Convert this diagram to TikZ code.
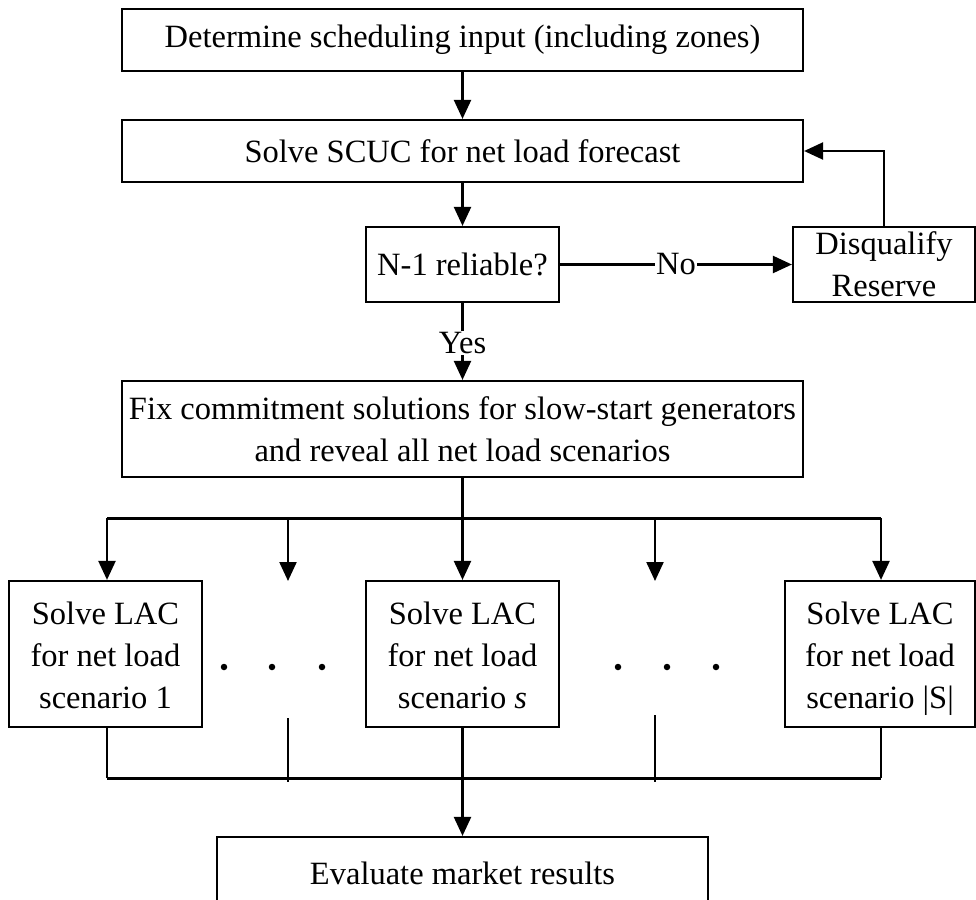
\documentclass[tikz,border=0pt]{standalone}
\usepackage{fontspec}
\setmainfont{Liberation Serif}
\usetikzlibrary{arrows.meta}
\begin{document}
\begin{tikzpicture}[x=1pt,y=-1pt,
  box/.style={draw, line width=2.2pt, rectangle, inner sep=0pt, align=center,
    font=\fontsize{32.5}{42}\selectfont},
  flow/.style={line width=2.3pt, -{Triangle[length=19pt,width=17pt]}},
  link/.style={line width=2.3pt},
  bus/.style={line width=3pt},
  tag/.style={fill=white, inner sep=1pt, font=\fontsize{32.5}{42}\selectfont},
  dot/.style={fill, circle, inner sep=0pt, minimum size=6.5pt}]
\useasboundingbox (0,0) rectangle (976,899);
\clip (0,0) rectangle (976,899);

% main chain
\node[box, minimum width=681pt, minimum height=62pt] (input) at (462.5,40) {Determine scheduling input (including zones)};
\node[box, minimum width=681pt, minimum height=62pt] (scuc) at (462.5,151) {Solve SCUC for net load forecast};
\node[box, minimum width=193pt, minimum height=75pt] (rel) at (462.5,264.5) {N-1 reliable?};
\node[box, minimum width=182pt, minimum height=75pt] (disq) at (884,264.5) {Disqualify\\Reserve};
\node[box, minimum width=681pt, minimum height=96pt] (fix) at (462.5,429) {Fix commitment solutions for slow-start generators\\and reveal all net load scenarios};

% scenario boxes (strut on the first line keeps the three texts level)
\node[box, minimum width=193pt, minimum height=146pt] (lac1) at (105.5,654) {\rule{0pt}{32pt}Solve LAC\\for net load\\scenario 1\vphantom{|}};
\node[box, minimum width=193pt, minimum height=146pt] (lacs) at (462.5,654) {\rule{0pt}{32pt}Solve LAC\\for net load\\scenario \textit{s}\vphantom{|}};
\node[box, minimum width=190pt, minimum height=146pt] (lacS) at (880,654) {\rule{0pt}{32pt}Solve LAC\\for net load\\scenario |S|};
\node[box, minimum width=491pt, minimum height=72pt] (eval) at (462.5,873) {Evaluate market results};

% ellipses between scenarios
\node[dot] (e1) at (224,667) {};
\node[dot] (e2) at (272,667) {};
\node[dot] (e3) at (322,667) {};
\node[dot] (e4) at (618,667) {};
\node[dot] (e5) at (667,667) {};
\node[dot] (e6) at (716,667) {};

% upper connectors
\draw[flow] (input) -- (scuc);
\draw[flow] (scuc) -- (rel);
\draw[flow] (rel) -- node[tag] {No} (disq);
\draw[flow] (disq.north) |- (scuc.east);
\draw[flow] (rel) -- node[tag, pos=0.52] {Yes} (fix);

% fan-out bus
\coordinate (busL) at (107,518);
\coordinate (busR) at (881,518);
\coordinate (busC) at (462.5,518);
\coordinate (gapA) at (288,518);
\coordinate (gapB) at (655,518);
\coordinate (gapAend) at (288,581);
\coordinate (gapBend) at (655,581);
\draw[link] (fix.south) -- (busC);
\draw[bus] (busL) -- (busR);
\draw[flow] (busL) -- (busL |- lac1.north);
\draw[flow] (gapA) -- (gapAend);
\draw[flow] (busC) -- (lacs.north);
\draw[flow] (gapB) -- (gapBend);
\draw[flow] (busR) -- (busR |- lacS.north);

% fan-in bus
\coordinate (jL) at (107,778);
\coordinate (jR) at (881,778);
\coordinate (tapA) at (288,718);
\coordinate (tapAend) at (288,782);
\coordinate (tapB) at (655,715);
\coordinate (tapBend) at (655,782);
\draw[link] (lac1.south -| jL) -- (jL);
\draw[link] (lacS.south -| jR) -- (jR);
\draw[link] (tapA) -- (tapAend);
\draw[link] (tapB) -- (tapBend);
\draw[bus] (jL) -- (jR);
\draw[flow] (lacs.south) -- (eval.north);
\end{tikzpicture}
\end{document}
